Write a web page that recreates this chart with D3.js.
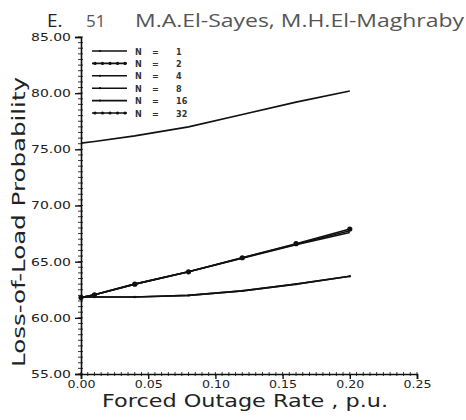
<!DOCTYPE html>
<html>
<head>
<meta charset="utf-8">
<script src="https://cdn.jsdelivr.net/npm/d3@7"></script>
<style>
  html, body { margin: 0; padding: 0; background: #ffffff; }
  svg { display: block; }
</style>
</head>
<body>
<svg id="chart" width="466" height="420"></svg>
<script>
// Forced outage rate (p.u.) at which LOLP was computed
const forcedOutageRate = [0, 0.01, 0.04, 0.08, 0.12, 0.16, 0.20];

// Loss-of-load probability for each number of units N
const lolpN1  = [75.55, 75.7, 76.2, 77.0, 78.1, 79.2, 80.2];
const lolpN2  = [61.8, 62.05, 63.0, 64.1, 65.35, 66.6, 67.9];
const lolpN4  = [61.8, 62.05, 63.0, 64.1, 65.3, 66.5, 67.6];
const lolpN8  = [61.8, 62.05, 63.0, 64.1, 65.35, 66.55, 67.75];
const lolpN16 = [61.85, 61.85, 61.85, 62.0, 62.4, 63.0, 63.7];
const lolpN32 = [61.85, 61.85, 61.85, 62.0, 62.4, 63.0, 63.7];

const seriesNames = ["1", "2", "4", "8", "16", "32"];
const seriesValues = [lolpN1, lolpN2, lolpN4, lolpN8, lolpN16, lolpN32];
const seriesMarked = [false, true, false, false, false, true];

const xTicks = [0, 0.05, 0.10, 0.15, 0.20, 0.25];
const yTicks = [55, 60, 65, 70, 75, 80, 85];

const svg = d3.select("#chart");

const x = d3.scaleLinear().domain([0, 0.25]).range([81, 417]);
const y = d3.scaleLinear().domain([55, 85]).range([374, 37]);

// Running header
const header = svg.append("g").attr("font-family", "'Open Sans', sans-serif");
header.append("text").attr("x", 47).attr("y", 27).attr("font-size", 19)
  .attr("fill", "#222").text("E.");
header.append("text").attr("x", 86).attr("y", 27).attr("font-size", 17)
  .attr("fill", "#555").text("51");
header.append("text").attr("x", 135).attr("y", 27).attr("font-size", 18)
  .attr("fill", "#555").attr("textLength", 329).attr("lengthAdjust", "spacingAndGlyphs")
  .text("M.A.El-Sayes, M.H.El-Maghraby");

// Minor ticks
const yMinor = d3.range(55, 85.001, 0.5);
svg.append("g").selectAll("line").data(yMinor).join("line")
  .attr("x1", 78).attr("x2", 83)
  .attr("y1", d => y(d)).attr("y2", d => y(d))
  .attr("stroke", "#222").attr("stroke-width", 0.9);
const xMinor = d3.range(0, 0.25001, 0.005);
svg.append("g").selectAll("line").data(xMinor).join("line")
  .attr("y1", 372).attr("y2", 376)
  .attr("x1", d => x(d)).attr("x2", d => x(d))
  .attr("stroke", "#222").attr("stroke-width", 0.9);

// Axes
const yAxis = d3.axisLeft(y).tickValues(yTicks).tickFormat(d3.format(".2f"))
  .tickSize(6).tickPadding(4);
const gy = svg.append("g").attr("transform", "translate(81,0)").call(yAxis);
const xAxis = d3.axisBottom(x).tickValues(xTicks).tickFormat(d3.format(".2f"))
  .tickSize(5).tickPadding(2);
const gx = svg.append("g").attr("transform", "translate(0,374)").call(xAxis);

[gx, gy].forEach(g => {
  g.select(".domain").attr("stroke", "#111").attr("stroke-width", 1.6);
  g.selectAll(".tick line").attr("stroke", "#111").attr("stroke-width", 1.4);
  g.selectAll(".tick text")
    .attr("font-family", "'DejaVu Sans', sans-serif")
    .attr("font-size", 10.5)
    .attr("fill", "#222");
});
gy.selectAll(".tick text").attr("textLength", 40).attr("lengthAdjust", "spacingAndGlyphs");
gx.selectAll(".tick text").attr("textLength", 28).attr("lengthAdjust", "spacingAndGlyphs");

// Axis titles
svg.append("text")
  .attr("transform", "translate(25,222) rotate(-90)")
  .attr("text-anchor", "middle")
  .attr("font-family", "'DejaVu Sans', sans-serif")
  .attr("font-size", 18).attr("fill", "#222")
  .attr("textLength", 290).attr("lengthAdjust", "spacingAndGlyphs")
  .text("Loss-of-Load Probability");
svg.append("text")
  .attr("x", 102).attr("y", 407)
  .attr("font-family", "'DejaVu Sans', sans-serif")
  .attr("font-size", 18).attr("fill", "#222")
  .attr("textLength", 286).attr("lengthAdjust", "spacingAndGlyphs")
  .text("Forced Outage Rate , p.u.");

// Curves
const line = d3.line()
  .x((d, i) => x(forcedOutageRate[i]))
  .y(d => y(d));

const curves = svg.append("g");
seriesValues.forEach((vals, k) => {
  curves.append("path")
    .datum(vals)
    .attr("d", line)
    .attr("fill", "none")
    .attr("stroke", "#111")
    .attr("stroke-width", 1.6);
  if (seriesMarked[k]) {
    const r = k === 1 ? 2.6 : 1.2;
    curves.append("g").selectAll("circle").data(vals).join("circle")
      .attr("cx", (d, i) => x(forcedOutageRate[i]))
      .attr("cy", d => y(d))
      .attr("r", r)
      .attr("fill", "#111");
  }
});

// Legend
const legend = svg.append("g")
  .attr("font-family", "'DejaVu Sans Condensed', 'DejaVu Sans', sans-serif")
  .attr("font-weight", "bold")
  .attr("font-size", 9)
  .attr("fill", "#333");
seriesNames.forEach((name, k) => {
  const ly = 51 + k * 12.4;
  legend.append("line")
    .attr("x1", 92).attr("x2", 127).attr("y1", ly).attr("y2", ly)
    .attr("stroke", "#111").attr("stroke-width", 1.6);
  if (seriesMarked[k]) {
    d3.range(5).forEach(j => {
      legend.append("circle")
        .attr("cx", 95 + j * 7.5).attr("cy", ly).attr("r", 1.6).attr("fill", "#111");
    });
  } else {
    legend.append("circle")
      .attr("cx", 100).attr("cy", ly).attr("r", 1.1).attr("fill", "#111");
  }
  legend.append("text").attr("x", 135).attr("y", ly + 3.5).text("N");
  legend.append("text").attr("x", 152).attr("y", ly + 3.5).text("=");
  legend.append("text").attr("x", 176).attr("y", ly + 3.5).text(name);
});
</script>
</body>
</html>
